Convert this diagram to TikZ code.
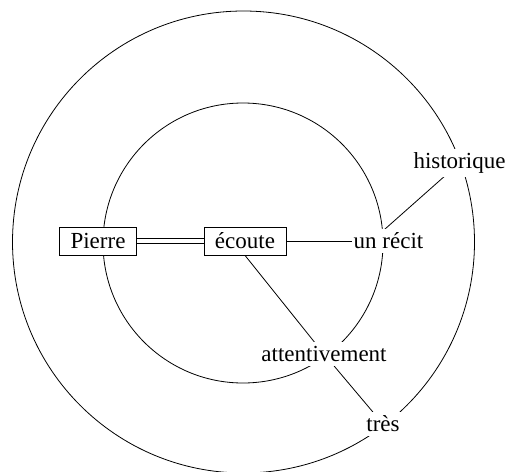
\documentclass[tikz,border=0pt]{standalone}
\usepackage{fontspec}
\setmainfont{Liberation Serif}
\newfontfamily\tmsfont{Liberation Serif}
\usetikzlibrary{backgrounds}
\begin{document}
\begin{tikzpicture}[x=1pt,y=-1pt,line width=0.8pt,
  box/.style={draw,fill=white,inner xsep=11pt,inner ysep=0pt,minimum height=28pt,font=\tmsfont\fontsize{23}{23}\selectfont},
  word/.style={fill=white,inner xsep=1pt,inner ysep=4pt,font=\tmsfont\fontsize{23}{23}\selectfont},
  link/.style={draw,line width=0.8pt}]
\useasboundingbox (0,0) rectangle (508,471);
\clip (0,0) rectangle (508,471);
\draw (243.5,242) circle[radius=231];
\draw (243,243) circle[radius=140];
\node[box] (pierre) at (98,241) {Pierre};
\node[box] (ecoute) at (245,241) {écoute};
\node[word] (recit) at (388.5,241) {un récit};
\node[word] (hist) at (459.5,163) {historique};
\node[word] (att) at (324,354) {attentivement};
\node[word] (tres) at (383,424) {très};
\begin{scope}[on background layer]
\path[link] (ecoute.south) -- (att.center);
\path[link] ([xshift=-17pt]recit.center) -- (hist.center);
\path[link] (att.center) -- (tres.center);
\end{scope}
\draw[double,double distance=4pt] (pierre.east) -- (ecoute.west);
\draw (ecoute.east) -- (recit.west);
\end{tikzpicture}
\end{document}
